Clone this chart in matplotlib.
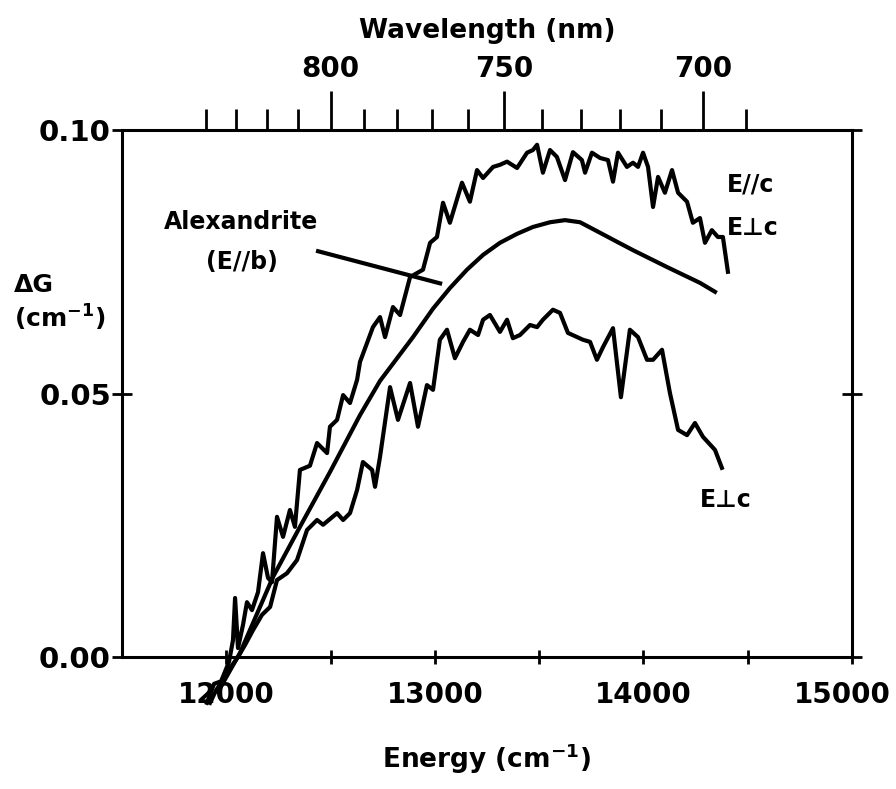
import numpy as np
import matplotlib
matplotlib.use("Agg")
import matplotlib.pyplot as plt
import matplotlib.transforms as mtransforms

plt.rcParams['font.family'] = ['DejaVu Sans']
plt.rcParams['font.weight'] = 'bold'
plt.rcParams['axes.labelweight'] = 'bold'
plt.rcParams['mathtext.default'] = 'bf'

# ---- data (energy in cm^-1, gain in cm^-1) ----
e_par_x = [11907, 11941, 11975, 12013, 12032, 12042, 12056, 12080, 12099, 12123,
           12152, 12176, 12200, 12219, 12243, 12272, 12305, 12329, 12353, 12401,
           12435, 12483, 12497, 12531, 12560, 12593, 12627, 12641, 12703, 12737,
           12761, 12799, 12833, 12881, 12943, 12977, 13010, 13039, 13072, 13130,
           13168, 13202, 13231, 13279, 13312, 13346, 13394, 13442, 13470, 13490,
           13518, 13552, 13585, 13624, 13662, 13705, 13720, 13753, 13792, 13830,
           13854, 13878, 13921, 13950, 13974, 13998, 14022, 14046, 14070, 14103,
           14137, 14166, 14209, 14237, 14271, 14295, 14328, 14357, 14381, 14405]
e_par_y = [-0.0087, -0.0051, -0.0046, -0.0009, 0.0032, 0.0112, 0.0017, 0.0061, 0.0104, 0.0089,
           0.0123, 0.0197, 0.0150, 0.0142, 0.0266, 0.0228, 0.0279, 0.0247, 0.0355, 0.0363,
           0.0406, 0.0387, 0.0437, 0.0450, 0.0497, 0.0482, 0.0526, 0.0560, 0.0626, 0.0645,
           0.0607, 0.0664, 0.0649, 0.0721, 0.0735, 0.0786, 0.0797, 0.0862, 0.0824, 0.0900,
           0.0864, 0.0924, 0.0909, 0.0930, 0.0934, 0.0940, 0.0928, 0.0957, 0.0962, 0.0972,
           0.0919, 0.0962, 0.0949, 0.0905, 0.0958, 0.0943, 0.0919, 0.0957, 0.0947, 0.0943,
           0.0902, 0.0957, 0.0930, 0.0938, 0.0930, 0.0957, 0.0930, 0.0854, 0.0911, 0.0881,
           0.0924, 0.0881, 0.0864, 0.0824, 0.0833, 0.0786, 0.0810, 0.0797, 0.0797, 0.0731]

alex_x = [11960, 12066, 12224, 12353, 12497, 12641, 12737, 12895, 12991, 13072,
          13154, 13231, 13312, 13394, 13470, 13552, 13624, 13696, 13792, 13873,
          13950, 14113, 14271, 14343]
alex_y = [-0.0066, 0.0008, 0.0152, 0.0247, 0.0351, 0.0459, 0.0524, 0.0607, 0.0661, 0.0700,
          0.0735, 0.0763, 0.0786, 0.0803, 0.0816, 0.0825, 0.0829, 0.0825, 0.0805, 0.0788,
          0.0772, 0.0740, 0.0710, 0.0693]

e_perp_x = [11922, 11951, 11984, 12018, 12056, 12090, 12128, 12171, 12210, 12243,
            12291, 12339, 12387, 12435, 12464, 12531, 12560, 12593, 12627, 12655,
            12699, 12713, 12737, 12785, 12823, 12881, 12919, 12962, 12991, 13024,
            13058, 13096, 13135, 13168, 13207, 13231, 13264, 13312, 13346, 13374,
            13408, 13456, 13490, 13518, 13566, 13600, 13638, 13710, 13744, 13777,
            13806, 13854, 13892, 13935, 13974, 14017, 14046, 14089, 14127, 14166,
            14209, 14247, 14285, 14343, 14376]
e_perp_y = [-0.0087, -0.0063, -0.0044, -0.0021, 0.0000, 0.0023, 0.0051, 0.0080, 0.0095, 0.0146,
            0.0159, 0.0184, 0.0241, 0.0260, 0.0251, 0.0273, 0.0260, 0.0273, 0.0317, 0.0370,
            0.0355, 0.0323, 0.0380, 0.0512, 0.0450, 0.0520, 0.0437, 0.0516, 0.0507, 0.0602,
            0.0621, 0.0567, 0.0598, 0.0621, 0.0611, 0.0640, 0.0649, 0.0617, 0.0640, 0.0605,
            0.0611, 0.0630, 0.0626, 0.0640, 0.0659, 0.0653, 0.0615, 0.0602, 0.0598, 0.0564,
            0.0588, 0.0624, 0.0493, 0.0621, 0.0607, 0.0564, 0.0564, 0.0583, 0.0501, 0.0431,
            0.0421, 0.0444, 0.0418, 0.0393, 0.0359]

energy_ticks = [12000, 13000, 14000, 15000]
energy_minor = [12500, 13500, 14500]
gain_ticks = [0.00, 0.05, 0.10]
gain_labels = ['0.00', '0.05', '0.10']
wl_major = [800, 750, 700]
wl_minor = [840, 830, 820, 810, 790, 780, 770, 760, 740, 730, 720, 710, 690]

# ---- figure ----
fig = plt.figure(figsize=(8.96, 7.89), dpi=100)
ax = fig.add_axes([0.1362, 0.1673, 0.8147, 0.6679])
lw = 3.0
ax.plot(e_par_x, e_par_y, color='black', lw=lw, clip_on=False, solid_joinstyle='round')
ax.plot(alex_x, alex_y, color='black', lw=lw, clip_on=False, solid_joinstyle='round')
ax.plot(e_perp_x, e_perp_y, color='black', lw=lw, clip_on=False, solid_joinstyle='round')

ax.set_xlim(11500, 15000)
ax.set_ylim(0.0, 0.10)
for s in ax.spines.values():
    s.set_linewidth(2.2)

ax.set_xticks(energy_ticks)
ax.set_xticklabels([str(t) for t in energy_ticks])
ax.set_xticks(energy_minor, minor=True)
ax.tick_params(axis='x', which='both', direction='inout', length=10, width=2,
               top=True, labelsize=20, pad=12)
# nudge the last energy label inward so it stays inside the figure
last = ax.get_xticklabels()[-1]
last.set_transform(last.get_transform() +
                   mtransforms.ScaledTranslation(-7 / 72, 0, fig.dpi_scale_trans))
ax.set_yticks(gain_ticks)
ax.set_yticklabels(gain_labels)
ax.tick_params(axis='y', which='both', direction='inout', length=14, width=2,
               right=True, labelsize=21, pad=1)
ax.set_xlabel('Energy (cm$^{-1}$)', fontsize=19, fontweight='bold', labelpad=24)

# top wavelength axis
ax2 = ax.twiny()
ax2.set_xlim(ax.get_xlim())
ax2.set_xticks([1e7 / w for w in wl_major])
ax2.set_xticklabels([str(w) for w in wl_major])
ax2.set_xticks([1e7 / w for w in wl_minor], minor=True)
ax2.tick_params(axis='x', which='major', direction='out', length=28, width=2,
                labelsize=20, pad=6)
ax2.tick_params(axis='x', which='minor', direction='out', length=15, width=2)
for s in ax2.spines.values():
    s.set_visible(False)
ax2.set_xlabel('Wavelength (nm)', fontsize=19, fontweight='bold', labelpad=12)

# annotations
fig.text(14 / 896, 1 - 285 / 789, '\u0394G', fontsize=18, ha='left', va='center')
fig.text(14 / 896, 1 - 318 / 789, '(cm$^{-1}$)', fontsize=18, ha='left', va='center')

ax.text(12070, 0.0825, 'Alexandrite', fontsize=17, ha='center', va='center')
ax.text(12075, 0.0749, '(E//b)', fontsize=17, ha='center', va='center')
ax.plot([12440, 13025], [0.0770, 0.0709], color='black', lw=lw)

ax.text(14400, 0.0896, 'E//c', fontsize=17, ha='left', va='center')
ax.text(14400, 0.0814, 'E\u22a5c', fontsize=17, ha='left', va='center')
ax.text(14270, 0.0297, 'E\u22a5c', fontsize=17, ha='left', va='center')

fig.savefig('out.png', dpi=100)
